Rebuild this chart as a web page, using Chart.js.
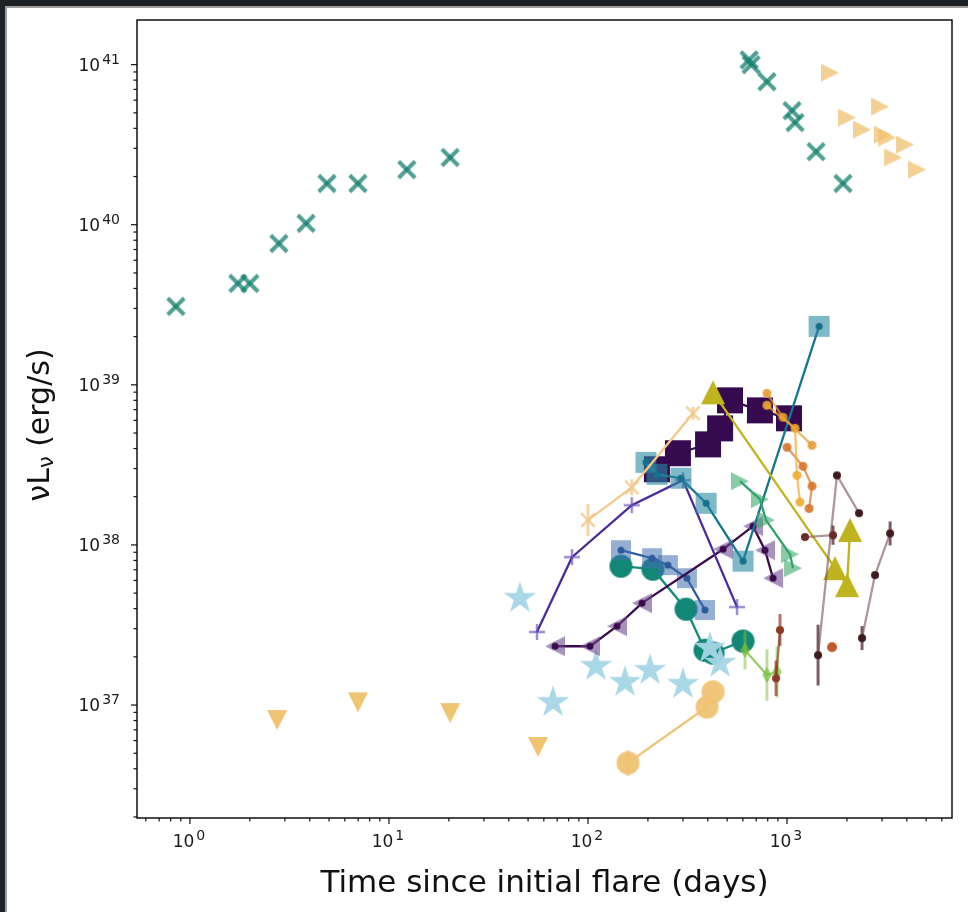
<!DOCTYPE html>
<html lang="en">
<head>
<meta charset="UTF-8">
<title>Flare luminosity</title>
<style>
  html, body { margin: 0; padding: 0; background: #1c2226; }
  #panel { position: absolute; left: 5px; top: 6px; width: 963px; height: 906px; background: #fff;
           border-left: 2px solid #9c9c9c; border-top: 2px solid #9c9c9c; box-sizing: border-box; }
  #wrap { position: absolute; left: 0; top: 0; width: 968px; height: 912px; }
</style>
</head>
<body>
<div id="panel"></div>
<div id="wrap"><canvas id="myChart"></canvas></div>
<script src="https://cdn.jsdelivr.net/npm/chart.js"></script>
<script>
// time since flare (days) / luminosity (erg/s), one pair of arrays per source
const tealXT = [0.85, 1.74, 2.0, 2.8, 3.83, 4.88, 6.98, 12.3, 20.3, 645, 660, 793, 1060, 1097, 1400, 1911];
const tealXL = [3.09e39, 4.3e39, 4.3e39, 7.64e39, 1.02e40, 1.81e40, 1.81e40, 2.21e40, 2.63e40, 1.07e41, 1.0e41, 7.83e40, 5.16e40, 4.35e40, 2.86e40, 1.81e40];
const beigeRightT = [1644, 2003, 2382, 2933, 3035, 3185, 3411, 3918, 4500];
const beigeRightL = [8.91e40, 4.67e40, 3.93e40, 5.47e40, 3.65e40, 3.5e40, 2.63e40, 3.17e40, 2.21e40];
const beigeDownT = [2.74, 6.98, 20.3, 56.1];
const beigeDownL = [8.06e36, 1.04e37, 8.91e36, 5.47e36];
const starT = [45.5, 66.7, 109.7, 153.5, 205, 300, 410, 461];
const starL = [4.65e37, 1.04e37, 1.75e37, 1.39e37, 1.65e37, 1.35e37, 2.27e37, 1.83e37];
const beigeCircT = [158.9, 396, 425];
const beigeCircL = [4.35e36, 9.72e36, 1.21e37];
const beigeCircErr = [0.08, 0, 0];
const tealCircT = [146.5, 212, 311, 387, 425, 601];
const tealCircL = [7.37e37, 7.06e37, 3.97e37, 2.2e37, 2.11e37, 2.51e37];
const steelSqT = [146.5, 210, 252, 314, 387];
const steelSqL = [9.27e37, 8.26e37, 7.48e37, 6.2e37, 3.92e37];
const purpleLeftT = [68.3, 102.3, 139.9, 186.8, 477, 675, 775, 851];
const purpleLeftL = [2.33e37, 2.33e37, 3.11e37, 4.33e37, 9.4e37, 1.31e38, 9.27e37, 6.2e37];
const indigoPlusT = [55.4, 83.1, 166, 300, 561];
const indigoPlusL = [2.86e37, 8.39e37, 1.77e38, 2.54e38, 4.09e37];
const darkSqT = [222, 283, 401, 461, 517, 731, 1023];
const darkSqL = [2.97e38, 3.74e38, 4.25e38, 5.35e38, 8.0e38, 6.93e38, 6.18e38];
const tealSqT = [195.6, 222, 293, 392, 601, 1449];
const tealSqL = [3.28e38, 2.76e38, 2.61e38, 1.82e38, 7.92e37, 2.32e39];
const beigeCrossT = [100, 166, 337];
const beigeCrossL = [1.43e38, 2.29e38, 6.64e38];
const beigeCrossErr = [0.1, 0.05, 0.04];
const oliveT = [425, 1742, 2003, 2073];
const oliveL = [8.98e38, 7.16e37, 5.61e37, 1.24e38];
const greenRightT = [580, 731, 784, 1035, 1072];
const greenRightL = [2.5e38, 1.93e38, 1.43e38, 8.75e37, 7.16e37];
const lightGreenT = [615, 793, 891];
const lightGreenL = [2.2e37, 1.54e37, 1.61e37];
const lightGreenErr = [0.12, 0.16, 0.16];
const orangeAT = [793, 955, 1336];
const orangeAL = [8.85e38, 6.27e38, 4.19e38];
const orangeBT = [1000, 1203, 1336, 1290];
const orangeBL = [4.07e38, 3.1e38, 2.33e38, 1.69e38];
const orangeCT = [793, 1097, 1122, 1162];
const orangeCL = [7.45e38, 5.35e38, 2.72e38, 1.85e38];
const brownAT = [1432, 1783, 2301];
const brownAL = [2.05e37, 2.72e38, 1.58e38];
const brownAErr = [0.19, 0, 0];
const brownBT = [2382, 2768, 3296];
const brownBL = [2.62e37, 6.48e37, 1.18e38];
const brownBErr = [0.075, 0, 0.075];
const brownCT = [1231, 1703];
const brownCL = [1.12e38, 1.15e38];
const brownCErr = [0, 0.06];
const redT = [922, 881];
const redL = [2.94e37, 1.47e37];
const redErr = [0.1, 0.11];
const redDotT = [1683];
const redDotL = [2.3e37];

const xMin = 0.542, xMax = 6745, yMin = 1.97e36, yMax = 1.9e41;
const FONT = '"DejaVu Sans", sans-serif';

// marker images, drawn like matplotlib markers
function marker(shape, r, color, alpha, dot, lw) {
  const s = Math.ceil(r * 2 + 8);
  const c = document.createElement('canvas');
  c.width = s; c.height = s;
  const g = c.getContext('2d');
  g.translate(s / 2, s / 2);
  g.fillStyle = color; g.strokeStyle = color;
  g.globalAlpha = alpha;
  g.lineCap = 'butt';
  const poly = (pts) => { g.beginPath(); pts.forEach((p, i) => i ? g.lineTo(p[0], p[1]) : g.moveTo(p[0], p[1])); g.closePath(); g.fill(); };
  if (shape === 'circle') { g.beginPath(); g.arc(0, 0, r, 0, Math.PI * 2); g.fill(); }
  if (shape === 'square') g.fillRect(-r, -r, 2 * r, 2 * r);
  if (shape === 'up') poly([[0, -r], [r, r], [-r, r]]);
  if (shape === 'down') poly([[0, r], [r, -r], [-r, -r]]);
  if (shape === 'left') poly([[-r, 0], [r, -r], [r, r]]);
  if (shape === 'right') poly([[r, 0], [-r, -r], [-r, r]]);
  if (shape === 'diamond') poly([[0, -r], [r * 0.6, 0], [0, r], [-r * 0.6, 0]]);
  if (shape === 'star') {
    const pts = [];
    for (let i = 0; i < 10; i++) {
      const a = -Math.PI / 2 + i * Math.PI / 5, rr = i % 2 ? r * 0.382 : r;
      pts.push([Math.cos(a) * rr, Math.sin(a) * rr]);
    }
    poly(pts);
  }
  if (shape === 'x' || shape === 'plus') {
    g.lineWidth = lw || 2;
    const d = shape === 'x' ? r * 0.75 : r;
    const segs = shape === 'x' ? [[-d, -d, d, d], [-d, d, d, -d]] : [[-d, 0, d, 0], [0, -d, 0, d]];
    segs.forEach(q => { g.beginPath(); g.moveTo(q[0], q[1]); g.lineTo(q[2], q[3]); g.stroke(); });
  }
  if (dot) {
    g.globalAlpha = 1; g.fillStyle = dot;
    g.beginPath(); g.arc(0, 0, 3.5, 0, Math.PI * 2); g.fill();
  }
  return c;
}

function series(label, t, L, style, line, err, errColor) {
  return {
    label: label,
    data: t.map((v, i) => ({x: v, y: L[i]})),
    pointStyle: style,
    pointRadius: 6,
    showLine: !!line,
    borderColor: line || 'rgba(0,0,0,0)',
    borderWidth: 2.3,
    errDex: err,
    errColor: errColor
  };
}

// bottom first
const sets = [
  series('tealX', tealXT, tealXL, marker('x', 11, '#16806f', 0.75, null, 4)),
  series('beigeRight', beigeRightT, beigeRightL, marker('right', 9, '#efc170', 0.75)),
  series('beigeDown', beigeDownT, beigeDownL, marker('down', 10, '#efc472', 1)),
  series('tealCirc', tealCircT, tealCircL, marker('circle', 11.5, '#128677', 1), '#178a78'),
  series('stars', starT, starL, marker('star', 17, '#a6d6e6', 0.95)),
  series('beigeCirc', beigeCircT, beigeCircL, marker('circle', 11.5, '#efc374', 0.95), '#efc374', beigeCircErr, 'rgba(239,195,116,0.8)'),
  series('steelSq', steelSqT, steelSqL, marker('square', 10, '#3f6fae', 0.55, '#2d5a9a'), '#2d5a9a'),
  series('purpleLeft', purpleLeftT, purpleLeftL, marker('left', 10, '#6a4a8c', 0.6, '#3a0c4c'), '#3a0c4c'),
  series('indigoPlus', indigoPlusT, indigoPlusL, marker('plus', 8, '#6750b8', 0.65, null, 2.5), '#4b2b9c'),
  series('darkSq', darkSqT, darkSqL, marker('square', 13, '#360a4e', 1), '#360a4e'),
  series('tealSq', tealSqT, tealSqL, marker('square', 10.5, '#2a88a2', 0.6, '#15708c'), '#15768f'),
  series('beigeCross', beigeCrossT, beigeCrossL, marker('x', 9, '#f1c98c', 0.8, null, 2.5), '#f1c98c', beigeCrossErr, 'rgba(241,201,140,0.8)'),
  series('olive', oliveT, oliveL, marker('up', 12, '#bfb41d', 1), '#bfb41d'),
  series('greenRight', greenRightT, greenRightL, marker('right', 9, '#3aa66c', 0.6), '#30a068'),
  series('lightGreen', lightGreenT, lightGreenL, marker('diamond', 8, '#7bbf3c', 0.7), 'rgba(123,191,60,0.8)', lightGreenErr, 'rgba(123,191,60,0.5)'),
  series('orangeA', orangeAT, orangeAL, marker('circle', 4.5, '#e59a35', 0.9), 'rgba(229,154,53,0.7)'),
  series('orangeB', orangeBT, orangeBL, marker('circle', 4.5, '#d8742a', 0.9), 'rgba(216,116,42,0.7)'),
  series('orangeC', orangeCT, orangeCL, marker('circle', 4.5, '#f0aa32', 0.9), 'rgba(240,170,50,0.7)'),
  series('brownA', brownAT, brownAL, marker('circle', 4, '#3f1a20', 1), 'rgba(120,80,86,0.6)', brownAErr, 'rgba(80,40,46,0.75)'),
  series('brownB', brownBT, brownBL, marker('circle', 4, '#3f1a20', 1), 'rgba(120,80,86,0.6)', brownBErr, 'rgba(80,40,46,0.75)'),
  series('brownC', brownCT, brownCL, marker('circle', 4, '#6a2a28', 1), 'rgba(120,80,86,0.6)', brownCErr, 'rgba(80,40,46,0.75)'),
  series('red', redT, redL, marker('circle', 4, '#8e3a22', 1), 'rgba(142,58,34,0.7)', redErr, 'rgba(142,58,34,0.7)'),
  series('redDot', redDotT, redDotL, marker('circle', 5, '#c45a2c', 1))
];
sets.forEach((d, i) => { d.order = sets.length - i; });

const isPow = v => { const e = Math.log10(v); return Math.abs(e - Math.round(e)) < 1e-6; };
function logTicks(lo, hi, e0, e1) {
  const out = [];
  for (let e = e0; e <= e1; e++) for (let k = 1; k <= 9; k++) {
    const v = k * Math.pow(10, e);
    if (v >= lo && v <= hi) out.push({value: v});
  }
  return out;
}

// "10" with a raised exponent, like matplotlib's log formatter
function powText(ctx, v, x, y, align) {
  const base = '17px ' + FONT, sup = '14px ' + FONT;
  const ex = String(Math.round(Math.log10(v)));
  ctx.font = base; const wb = ctx.measureText('10').width;
  ctx.font = sup; const ws = ctx.measureText(ex).width;
  const w = wb + ws + 2;
  const x0 = align === 'right' ? x - w : x - w / 2;
  ctx.textAlign = 'left';
  ctx.textBaseline = 'alphabetic';
  ctx.font = base; ctx.fillText('10', x0, y);
  ctx.font = sup; ctx.fillText(ex, x0 + wb + 2, y - 7);
}

const errorBars = {
  id: 'errorBars',
  beforeDatasetDraw(chart, args) {
    const ds = chart.data.datasets[args.index];
    if (!ds.errDex) return;
    const ctx = chart.ctx, y = chart.scales.y;
    ctx.save();
    ctx.strokeStyle = ds.errColor;
    ctx.lineWidth = 3;
    args.meta.data.forEach((pt, i) => {
      const e = ds.errDex[i];
      if (!e) return;
      const v = ds.data[i].y;
      ctx.beginPath();
      ctx.moveTo(pt.x, y.getPixelForValue(v * Math.pow(10, e)));
      ctx.lineTo(pt.x, y.getPixelForValue(v / Math.pow(10, e)));
      ctx.stroke();
    });
    ctx.restore();
  }
};

const frame = {
  id: 'frame',
  afterDraw(chart) {
    const {ctx, chartArea: a, scales: {x, y}} = chart;
    ctx.save();
    ctx.strokeStyle = '#111';
    ctx.fillStyle = '#1a1a1a';
    ctx.lineWidth = 1.5;
    ctx.strokeRect(a.left, a.top, a.right - a.left, a.bottom - a.top);
    ctx.lineWidth = 1.2;
    x.ticks.forEach(t => {
      const px = x.getPixelForValue(t.value), major = isPow(t.value);
      ctx.beginPath(); ctx.moveTo(px, a.bottom); ctx.lineTo(px, a.bottom + (major ? 6 : 3.5)); ctx.stroke();
      if (major) powText(ctx, t.value, px - 1, a.bottom + 29, 'center');
    });
    y.ticks.forEach(t => {
      const py = y.getPixelForValue(t.value), major = isPow(t.value);
      ctx.beginPath(); ctx.moveTo(a.left, py); ctx.lineTo(a.left - (major ? 6 : 3.5), py); ctx.stroke();
      if (major) powText(ctx, t.value, a.left - 17, py + 6, 'right');
    });
    // y title with subscript nu
    ctx.translate(41, (a.top + a.bottom) / 2 + 6);
    ctx.rotate(-Math.PI / 2);
    ctx.fillStyle = '#111';
    ctx.textBaseline = 'middle';
    ctx.textAlign = 'left';
    const big = '30px ' + FONT, small = '21px ' + FONT;
    ctx.font = big;
    const w1 = ctx.measureText('νL').width, w3 = ctx.measureText(' (erg/s)').width;
    ctx.font = small;
    const w2 = ctx.measureText('ν').width;
    const x0 = -(w1 + w2 + w3) / 2;
    ctx.font = big; ctx.fillText('νL', x0, 0);
    ctx.font = small; ctx.fillText('ν', x0 + w1, 7);
    ctx.font = big; ctx.fillText(' (erg/s)', x0 + w1 + w2, 0);
    ctx.restore();
  }
};

new Chart(document.getElementById('myChart'), {
  type: 'scatter',
  data: {datasets: sets},
  options: {
    responsive: true,
    maintainAspectRatio: false,
    animation: false,
    layout: {padding: {left: 0, top: 20, right: 16, bottom: 0}},
    plugins: {legend: {display: false}, tooltip: {enabled: false}},
    scales: {
      x: {
        type: 'logarithmic', min: xMin, max: xMax,
        afterBuildTicks: s => { s.ticks = logTicks(xMin, xMax, -1, 3); },
        afterFit: s => { s.height = 94; },
        grid: {display: false, drawTicks: false},
        border: {display: false},
        ticks: {display: false},
        title: {display: true, text: 'Time since initial flare (days)', color: '#111',
                font: {family: FONT, size: 31}, padding: {top: 0, bottom: 9}}
      },
      y: {
        type: 'logarithmic', min: yMin, max: yMax,
        afterBuildTicks: s => { s.ticks = logTicks(yMin, yMax, 36, 41); },
        afterFit: s => { s.width = 137; },
        grid: {display: false, drawTicks: false},
        border: {display: false},
        ticks: {display: false}
      }
    }
  },
  plugins: [errorBars, frame]
});
</script>
</body>
</html>
